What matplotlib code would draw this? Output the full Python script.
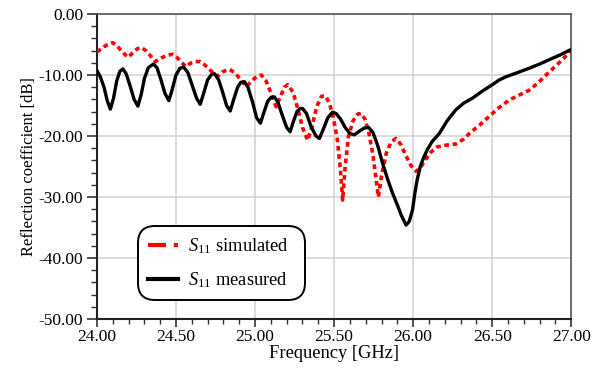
# Reflection coefficient: simulated vs measured S11

import matplotlib
matplotlib.use('Agg')
import matplotlib.pyplot as plt
from matplotlib.lines import Line2D
from matplotlib.ticker import MultipleLocator, FormatStrFormatter

plt.rcParams['font.family'] = ['Liberation Serif', 'DejaVu Serif']
plt.rcParams['mathtext.fontset'] = 'custom'
plt.rcParams['mathtext.rm'] = 'Liberation Serif'
plt.rcParams['mathtext.it'] = 'Liberation Serif:italic'
plt.rcParams['axes.unicode_minus'] = False

# measured S11 (black)
freq_meas = [24.000, 24.020, 24.045, 24.065, 24.085, 24.105, 24.125, 24.145, 24.164, 24.185,
             24.210, 24.235, 24.259, 24.280, 24.300, 24.325, 24.358, 24.380, 24.405, 24.430,
             24.455, 24.475, 24.500, 24.525, 24.548, 24.575, 24.600, 24.630, 24.653, 24.675,
             24.700, 24.725, 24.744, 24.770, 24.795, 24.820, 24.843, 24.865, 24.890, 24.910,
             24.933, 24.955, 24.985, 25.010, 25.034, 25.055, 25.080, 25.100, 25.123, 25.145,
             25.175, 25.200, 25.222, 25.240, 25.265, 25.285, 25.301, 25.325, 25.355, 25.385,
             25.407, 25.430, 25.460, 25.490, 25.512, 25.540, 25.570, 25.600, 25.628, 25.660,
             25.690, 25.718, 25.745, 25.775, 25.807, 25.840, 25.870, 25.900, 25.925, 25.955,
             25.975, 25.996, 26.010, 26.025, 26.045, 26.065, 26.090, 26.120, 26.165, 26.215,
             26.270, 26.320, 26.375, 26.440, 26.500, 26.545, 26.586, 26.650, 26.733, 26.800,
             26.860, 26.930, 27.000]
s11_meas = [-9.3, -10.2, -12.0, -14.2, -15.6, -13.8, -11.0, -9.4, -9.0, -9.8,
            -11.8, -14.0, -15.1, -13.2, -10.6, -8.8, -8.2, -8.8, -10.8, -13.0,
            -14.2, -12.5, -10.0, -8.9, -8.7, -9.6, -11.5, -13.8, -14.8, -13.0,
            -10.8, -9.9, -9.8, -10.8, -12.8, -15.0, -15.9, -14.0, -12.0, -11.2,
            -11.1, -12.0, -14.5, -17.0, -17.9, -16.2, -14.3, -13.7, -13.6, -14.5,
            -16.8, -18.6, -19.3, -17.8, -16.0, -15.5, -15.5, -16.3, -18.5, -20.0,
            -20.4, -19.0, -17.0, -16.1, -16.3, -17.2, -18.6, -19.6, -19.8, -19.2,
            -18.7, -18.6, -19.4, -21.5, -24.5, -27.2, -29.4, -31.3, -33.0, -34.6,
            -34.0, -32.1, -29.5, -27.2, -25.0, -23.6, -22.2, -20.9, -19.6, -17.5,
            -15.7, -14.6, -13.8, -12.6, -11.6, -10.8, -10.3, -9.7, -8.9, -8.2,
            -7.5, -6.7, -5.8]

# simulated S11 (red)
freq_sim = [24.000, 24.030, 24.060, 24.100, 24.130, 24.160, 24.196, 24.230, 24.255, 24.280,
            24.310, 24.340, 24.370, 24.400, 24.440, 24.476, 24.505, 24.535, 24.560, 24.590,
            24.620, 24.650, 24.680, 24.720, 24.764, 24.800, 24.840, 24.870, 24.905, 24.944,
            24.980, 25.010, 25.040, 25.070, 25.100, 25.133, 25.160, 25.185, 25.207, 25.240,
            25.270, 25.300, 25.333, 25.360, 25.390, 25.420, 25.445, 25.470, 25.495, 25.520,
            25.540, 25.554, 25.570, 25.590, 25.620, 25.650, 25.670, 25.695, 25.720, 25.745,
            25.765, 25.780, 25.800, 25.830, 25.860, 25.890, 25.920, 25.950, 25.985, 26.020,
            26.050, 26.080, 26.110, 26.150, 26.207, 26.270, 26.320, 26.355, 26.420, 26.480,
            26.540, 26.607, 26.670, 26.733, 26.790, 26.840, 26.890, 26.944, 27.000]
s11_sim = [-6.2, -5.7, -5.1, -4.7, -5.3, -6.2, -7.1, -6.3, -5.7, -5.5,
           -6.0, -6.9, -7.8, -7.3, -6.8, -6.6, -7.1, -7.9, -8.6, -8.1,
           -7.8, -7.8, -8.3, -9.3, -10.2, -9.4, -9.1, -9.6, -10.6, -11.9,
           -11.0, -10.2, -10.0, -11.0, -12.9, -15.2, -13.6, -12.0, -11.6, -12.8,
           -15.5, -18.6, -20.7, -18.5, -15.2, -13.5, -13.4, -14.6, -17.0, -20.5,
           -25.5, -30.5, -25.0, -20.2, -17.5, -16.4, -16.3, -17.2, -19.5, -23.0,
           -27.0, -30.0, -26.5, -22.8, -21.0, -20.4, -21.3, -23.0, -24.8, -25.8,
           -25.0, -23.8, -22.7, -21.8, -21.5, -21.3, -20.5, -19.6, -18.2, -16.8,
           -15.4, -14.1, -13.3, -12.5, -11.3, -10.0, -8.8, -7.5, -5.9]

fig = plt.figure(figsize=(6.02, 3.68), dpi=100)
ax = fig.add_axes([0.161, 0.133, 0.788, 0.829])

ax.plot(freq_sim, s11_sim, color='#ff0000', linewidth=2.6,
        linestyle=(0, (1.3, 1.0)), zorder=3)
ax.plot(freq_meas, s11_meas, color='black', linewidth=2.4, zorder=4)

ax.set_xlim(24, 27)
ax.set_ylim(-50, 0)
ax.xaxis.set_major_locator(MultipleLocator(0.5))
ax.xaxis.set_minor_locator(MultipleLocator(0.1))
ax.yaxis.set_major_locator(MultipleLocator(10))
ax.yaxis.set_minor_locator(MultipleLocator(2))
ax.xaxis.set_major_formatter(FormatStrFormatter('%.2f'))
ax.yaxis.set_major_formatter(FormatStrFormatter('%.2f'))
ax.tick_params(which='both', direction='out', color='#333333', labelsize=12.5)
ax.tick_params(axis='y', which='major', length=7, width=1.2, pad=3)
ax.tick_params(axis='y', which='minor', length=4, width=1.0)
ax.tick_params(axis='x', which='major', length=6, width=1.2, pad=1)
ax.tick_params(axis='x', which='minor', length=3.5, width=1.0)
ax.xaxis.set_ticks_position('bottom')
ax.yaxis.set_ticks_position('left')
ax.grid(True, which='major', color='#d4d4d4', linewidth=1.2)
ax.set_axisbelow(True)

for side in ['left', 'bottom']:
    ax.spines[side].set_color('#222222')
    ax.spines[side].set_linewidth(1.5)
for side in ['top', 'right']:
    ax.spines[side].set_color('#555555')
    ax.spines[side].set_linewidth(1.2)

ax.set_xlabel('Frequency [GHz]', fontsize=13.3, labelpad=0)
ax.set_ylabel('Reflection coefficient [dB]', fontsize=12, labelpad=1)

h_sim = Line2D([], [], color='#ff0000', linewidth=3, linestyle=(0, (4.3, 1.9, 1.0, 2.0)))
h_meas = Line2D([], [], color='black', linewidth=3)
leg = ax.legend([h_sim, h_meas], ['$S_{11}$ simulated', '$S_{11}$ measured'],
                loc='lower left', bbox_to_anchor=(0.0865, 0.063, 0.352, 0.24),
                mode='expand', borderaxespad=0, fontsize=13.3, frameon=True,
                fancybox=True, handlelength=1.6, handletextpad=0.55,
                borderpad=0.55, labelspacing=0.75)
frame = leg.get_frame()
frame.set_edgecolor('black')
frame.set_linewidth(1.4)
frame.set_facecolor('white')
frame.set_alpha(1)
frame.set_boxstyle('round,pad=0,rounding_size=0.9')

plt.savefig('out.png', dpi=100)
